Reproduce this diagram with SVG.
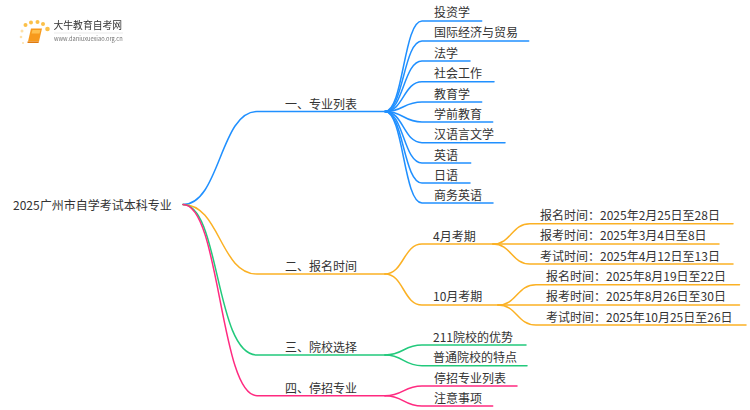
<svg xmlns="http://www.w3.org/2000/svg" width="750" height="410" viewBox="0 0 750 410">
<style>
text{font-family:"Noto Sans CJK SC","Noto Sans",sans-serif;font-size:12px;fill:#333}
.c path{fill:none;stroke-width:1.5;stroke-linecap:round}
.b path{stroke:#2090ff}.o path{stroke:#fbb124}.g path{stroke:#22c97c}.p path{stroke:#ff2a80}
</style>
<defs><filter id="bl" x="-20%" y="-20%" width="140%" height="140%"><feGaussianBlur stdDeviation="0.35"/></filter></defs>
<rect width="750" height="410" fill="#fff"/>
<g id="logo" filter="url(#bl)">
<g fill="#fbc04a"><circle cx="25.500" cy="25" r="2"/><circle cx="31" cy="22.500" r="2"/><circle cx="37.500" cy="22" r="2"/><circle cx="43" cy="24" r="2"/><circle cx="47.500" cy="29" r="2.300"/></g>
<g fill="#fde0a8"><circle cx="22" cy="31" r="1.500"/><circle cx="21" cy="37" r="1.300"/><circle cx="23" cy="43" r="1"/></g>
<path d="M31 28.500h11l-3 13h-11z" fill="#f79a1e"/><path d="M32.500 30h8l-1 3.500h-8z" fill="#ffc04d"/><path d="M27.500 41.500h11.500l-.5 1.500h-11z" fill="#e07a10"/>
<text x="53.500" y="29" style="font-size:9.800px" fill="#444">大牛教育自考网</text>
<text x="54" y="40.500" style="font-size:5.700px;fill:#777">www.daniuxuexiao.org.cn</text>
<path d="M54 33h69" stroke="#ddd" stroke-width=".6"/>
</g>
<g id="connectors" class="c">
<g class="b">
<path d="M183 204.500C220 204.500 220 111.500 257 111.500H385"/>
<path d="M385 111.500C403.500 111.500 403.500 21 422 21H481.700"/>
<path d="M385 111.500C403.500 111.500 403.500 41 422 41H528.700"/>
<path d="M385 111.500C403.500 111.500 403.500 61 422 61H470"/>
<path d="M385 111.500C403.500 111.500 403.500 81.700 422 81.700H494"/>
<path d="M385 111.500C403.500 111.500 403.500 102 422 102H481.700"/>
<path d="M385 111.500C403.500 111.500 403.500 122 422 122H492.700"/>
<path d="M385 111.500C403.500 111.500 403.500 142.700 422 142.700H505"/>
<path d="M385 111.500C403.500 111.500 403.500 163 422 163H470.700"/>
<path d="M385 111.500C403.500 111.500 403.500 183 422 183H470"/>
<path d="M385 111.500C403.500 111.500 403.500 203 422 203H493"/>
</g>
<g class="o">
<path d="M183 204.500C220 204.500 220 274 257 274H385"/>
<path d="M385 274C403.500 274 403.500 244 422 244H493"/>
<path d="M385 274C403.500 274 403.500 305 422 305H498"/>
<path d="M493 244C511.500 244 511.500 223.700 530 223.700H733"/>
<path d="M493 244H719"/>
<path d="M493 244C511.500 244 511.500 264 530 264H733"/>
<path d="M498 305C517 305 517 284.700 536 284.700H739.500"/>
<path d="M498 305H739.500"/>
<path d="M498 305C517 305 517 325 536 325H746"/>
</g>
<g class="g">
<path d="M183 204.500C220 204.500 215 355 257 355H385"/>
<path d="M385 355C403.500 355 403.500 345 422 345H526"/>
<path d="M385 355C403.500 355 403.500 365.700 422 365.700H527"/>
</g>
<g class="p">
<path d="M183 204.500C220 204.500 220 395.700 257 395.700H385"/>
<path d="M385 395.700C403.500 395.700 403.500 386 422 386H517"/>
<path d="M385 395.700C403.500 395.700 403.500 406 422 406H492.700"/>
</g>
</g>
<g id="root"><text x="13" y="210">2025广州市自学考试本科专业</text></g>
<g id="n1"><text x="285" y="109">一、专业列表</text></g>
<g id="n1-1"><text x="434" y="17">投资学</text></g>
<g id="n1-2"><text x="434" y="37">国际经济与贸易</text></g>
<g id="n1-3"><text x="434" y="58">法学</text></g>
<g id="n1-4"><text x="434" y="78">社会工作</text></g>
<g id="n1-5"><text x="434" y="99">教育学</text></g>
<g id="n1-6"><text x="434" y="119">学前教育</text></g>
<g id="n1-7"><text x="434" y="139">汉语言文学</text></g>
<g id="n1-8"><text x="434" y="160">英语</text></g>
<g id="n1-9"><text x="434" y="180">日语</text></g>
<g id="n1-10"><text x="434" y="200">商务英语</text></g>
<g id="n2"><text x="285" y="271">二、报名时间</text></g>
<g id="n2-1"><text x="433" y="241">4月考期</text></g>
<g id="n2-1-1"><text x="540" y="220">报名时间：2025年2月25日至28日</text></g>
<g id="n2-1-2"><text x="540" y="240">报考时间：2025年3月4日至8日</text></g>
<g id="n2-1-3"><text x="540" y="261">考试时间：2025年4月12日至13日</text></g>
<g id="n2-2"><text x="433" y="301">10月考期</text></g>
<g id="n2-2-1"><text x="546" y="281">报名时间：2025年8月19日至22日</text></g>
<g id="n2-2-2"><text x="546" y="301">报考时间：2025年8月26日至30日</text></g>
<g id="n2-2-3"><text x="546" y="322">考试时间：2025年10月25日至26日</text></g>
<g id="n3"><text x="285" y="352">三、院校选择</text></g>
<g id="n3-1"><text x="433" y="342">211院校的优势</text></g>
<g id="n3-2"><text x="433" y="362">普通院校的特点</text></g>
<g id="n4"><text x="285" y="393">四、停招专业</text></g>
<g id="n4-1"><text x="434" y="383">停招专业列表</text></g>
<g id="n4-2"><text x="434" y="403">注意事项</text></g>
</svg>
